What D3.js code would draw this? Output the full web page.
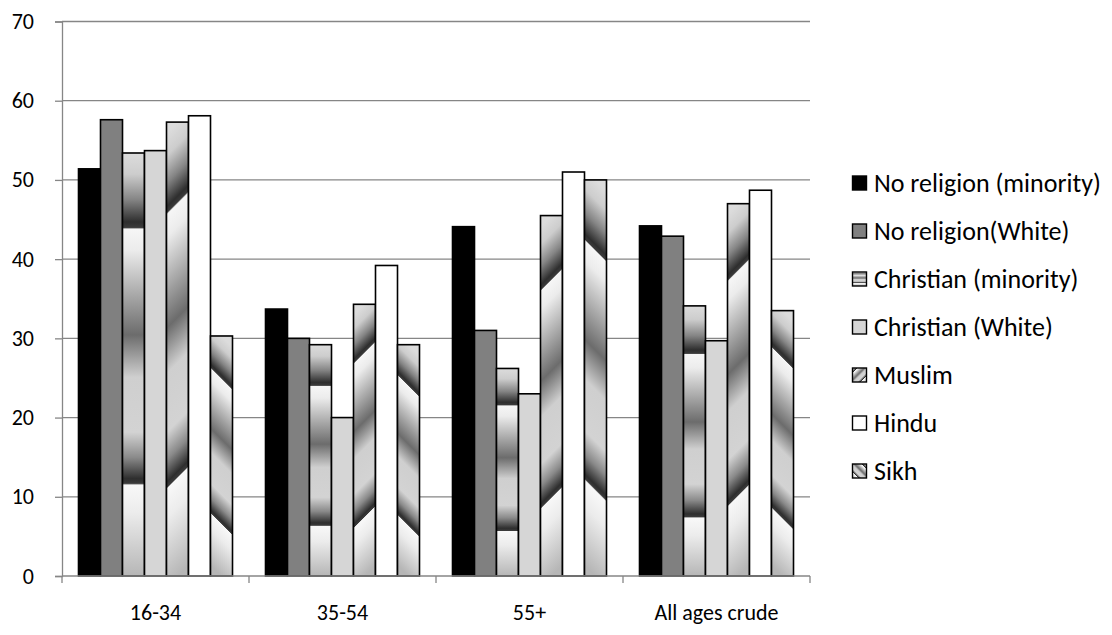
<!DOCTYPE html>
<html>
<head>
<meta charset="utf-8">
<script src="https://cdn.jsdelivr.net/npm/d3@7/dist/d3.min.js"></script>
<style>
  html, body { margin: 0; padding: 0; background: #fff; }
  svg { display: block; }
  text { font-family: Carlito, Calibri, Lato, sans-serif; fill: #000; }
</style>
</head>
<body>
<svg id="chart" width="1112" height="635"></svg>
<script>
// Age groups along the x axis
const categories = ["16-34", "35-54", "55+", "All ages crude"];

// Series names, in legend order
const seriesNames = [
  "No religion (minority)",
  "No religion(White)",
  "Christian (minority)",
  "Christian (White)",
  "Muslim",
  "Hindu",
  "Sikh"
];

// Values per series, one per age group
const noReligionMinority = [51.4, 33.7, 44.1, 44.2];
const noReligionWhite    = [57.6, 30.0, 31.0, 42.9];
const christianMinority  = [53.4, 29.2, 26.2, 34.1];
const christianWhite     = [53.7, 20.0, 23.0, 29.7];
const muslim             = [57.3, 34.3, 45.5, 47.0];
const hindu              = [58.1, 39.2, 51.0, 48.7];
const sikh               = [30.3, 29.2, 50.0, 33.5];

// Y axis ticks
const yTicks = [0, 10, 20, 30, 40, 50, 60, 70];

const seriesValues = [
  noReligionMinority, noReligionWhite, christianMinority,
  christianWhite, muslim, hindu, sikh
];

// Fill style per series: solid colour or a banded gradient
const seriesFill = [
  { type: "solid", color: "#000000" },
  { type: "solid", color: "#808080" },
  { type: "band",  dir: "vertical" },
  { type: "solid", color: "#d6d6d6" },
  { type: "band",  dir: "up" },
  { type: "solid", color: "#ffffff" },
  { type: "band",  dir: "down" }
];

// Banded grey ramp shared by the gradient fills (offsets run top to bottom)
const bandStops = [
  [0.000, "#dcdcdc"],
  [0.050, "#cdcdcd"],
  [0.110, "#858585"],
  [0.163, "#2e2e2e"],
  [0.176, "#3a3a3a"],
  [0.180, "#f6f6f6"],
  [0.230, "#ececec"],
  [0.330, "#acacac"],
  [0.430, "#6c6c6c"],
  [0.530, "#cfcfcf"],
  [0.660, "#d3d3d3"],
  [0.720, "#8a8a8a"],
  [0.770, "#2e2e2e"],
  [0.781, "#3a3a3a"],
  [0.785, "#f8f8f8"],
  [0.850, "#ececec"],
  [1.000, "#b6b6b6"]
];

const svg = d3.select("#chart");
const defs = svg.append("defs");

const plot = { left: 62, right: 810, top: 21.5, bottom: 576 };

const y = d3.scaleLinear().domain([0, 70]).range([plot.bottom, plot.top]);
const x0 = d3.scaleBand().domain(categories).range([plot.left, plot.right]).padding(0);
const x1 = d3.scaleBand().domain(d3.range(seriesNames.length))
  .range([0, x0.bandwidth()]).paddingInner(0).paddingOuter(0.75);

const gridColor = "#868686";

function addStops(grad) {
  grad.selectAll("stop").data(bandStops).join("stop")
    .attr("offset", d => d[0])
    .attr("stop-color", d => d[1]);
}

// Gridlines
svg.append("g").selectAll("line").data(yTicks.filter(t => t > 0)).join("line")
  .attr("x1", plot.left).attr("x2", plot.right)
  .attr("y1", d => y(d)).attr("y2", d => y(d))
  .attr("stroke", gridColor).attr("stroke-width", 1.3);

// Y axis
const yAxis = svg.append("g")
  .attr("transform", `translate(${plot.left},0)`)
  .call(d3.axisLeft(y).tickValues(yTicks).tickSize(7).tickPadding(21).tickFormat(d3.format("d")));
yAxis.select(".domain").attr("stroke", gridColor).attr("stroke-width", 1.3);
yAxis.selectAll(".tick line").attr("stroke", gridColor).attr("stroke-width", 1.3);
yAxis.selectAll(".tick text")
  .style("font-family", "Carlito, Calibri, Lato, sans-serif")
  .style("font-size", "22px").attr("fill", "#000");

// Bars
const bars = [];
categories.forEach((cat, ci) => {
  seriesNames.forEach((name, si) => {
    bars.push({ cat, ci, si, value: seriesValues[si][ci] });
  });
});

function barFill(d) {
  const f = seriesFill[d.si];
  if (f.type === "solid") return f.color;
  const id = `bar-grad-${d.si}-${d.ci}`;
  const bx = x0(d.cat) + x1(d.si);
  const bw = x1.bandwidth();
  const top = y(d.value);
  const h = y(0) - top;
  const xc = bx + bw / 2;
  const g = defs.append("linearGradient").attr("id", id)
    .attr("gradientUnits", "userSpaceOnUse");
  if (f.dir === "vertical") {
    g.attr("x1", xc).attr("y1", top).attr("x2", xc).attr("y2", top + h);
  } else {
    const s = f.dir === "up" ? 1 : -1;
    g.attr("x1", xc).attr("y1", top)
     .attr("x2", xc + s * h / 2).attr("y2", top + h / 2);
  }
  addStops(g);
  return `url(#${id})`;
}

svg.append("g").selectAll("rect").data(bars).join("rect")
  .attr("x", d => x0(d.cat) + x1(d.si))
  .attr("y", d => y(d.value))
  .attr("width", x1.bandwidth())
  .attr("height", d => y(0) - y(d.value))
  .attr("fill", d => barFill(d))
  .attr("stroke", "#000")
  .attr("stroke-width", 1.6);

// X axis
const xAxis = svg.append("g").attr("transform", `translate(0,${plot.bottom})`);
xAxis.append("line")
  .attr("x1", plot.left).attr("x2", plot.right)
  .attr("stroke", gridColor).attr("stroke-width", 1.3);
const boundaries = categories.map(c => x0(c)).concat([plot.right]);
xAxis.selectAll("line.tick").data(boundaries).join("line")
  .attr("class", "tick")
  .attr("x1", d => d).attr("x2", d => d)
  .attr("y1", 0).attr("y2", 7)
  .attr("stroke", gridColor).attr("stroke-width", 1.3);
xAxis.selectAll("text").data(categories).join("text")
  .attr("x", d => x0(d) + x0.bandwidth() / 2)
  .attr("y", 44)
  .attr("text-anchor", "middle")
  .style("font-size", "22px")
  .text(d => d);

// Legend gradients (box-relative)
const legendGradDir = {
  vertical: { x1: 0, y1: 0, x2: 0, y2: 1 },
  up:       { x1: 0, y1: 0, x2: 1, y2: 1 },
  down:     { x1: 1, y1: 0, x2: 0, y2: 1 }
};

function legendFill(si) {
  const f = seriesFill[si];
  if (f.type === "solid") return f.color;
  const id = `legend-grad-${si}`;
  const v = legendGradDir[f.dir];
  const g = defs.append("linearGradient").attr("id", id)
    .attr("x1", v.x1).attr("y1", v.y1).attr("x2", v.x2).attr("y2", v.y2);
  addStops(g);
  return `url(#${id})`;
}

const legend = svg.append("g").attr("transform", "translate(852,183)");
const items = legend.selectAll("g").data(seriesNames).join("g")
  .attr("transform", (d, i) => `translate(0,${i * 48})`);
items.append("rect")
  .attr("x", 0.5).attr("y", -7)
  .attr("width", 14).attr("height", 14)
  .attr("fill", (d, i) => legendFill(i))
  .attr("stroke", "#000").attr("stroke-width", 1.4);
items.append("text")
  .attr("x", 22).attr("y", 0)
  .attr("dy", "0.36em")
  .style("font-size", "26px")
  .text(d => d);
</script>
</body>
</html>
